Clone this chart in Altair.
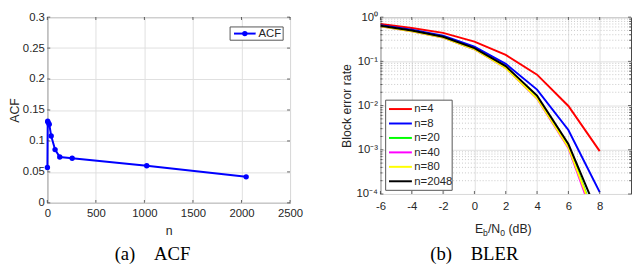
import altair as alt
import pandas as pd

# ---------------- panel (a): ACF ----------------
acf_n = [1, 4, 8, 20, 40, 80, 128, 256, 1024, 2048]
acf_val = [0.057, 0.132, 0.130, 0.127, 0.108, 0.086, 0.074, 0.072, 0.060, 0.042]
x_ticks_a = [0, 500, 1000, 1500, 2000, 2500]
y_ticks_a = [0, 0.05, 0.1, 0.15, 0.2, 0.25, 0.3]

# ---------------- panel (b): BLER ----------------
ebn0 = [-6, -4, -2, 0, 2, 4, 6, 8]
series_names = ["n=4", "n=8", "n=20", "n=40", "n=80", "n=2048"]
series_colors = ["#ff0000", "#0000ff", "#00ff00", "#ff00ff", "#ffff00", "#000000"]
bler_n4 = [0.70, 0.57, 0.44, 0.28, 0.14, 0.050, 0.0098, 0.00093]
bler_n8 = [0.66, 0.52, 0.38, 0.215, 0.088, 0.023, 0.0028, 0.00011]
bler_n20 = [0.625, 0.485, 0.35, 0.19, 0.073, 0.0152, 0.0012, 0.000016]
bler_n40 = [0.62, 0.48, 0.345, 0.188, 0.071, 0.0145, 0.0011, 0.000012]
bler_n80 = [0.62, 0.48, 0.345, 0.188, 0.071, 0.0146, 0.00115, 0.000015]
bler_n2048 = [0.64, 0.50, 0.36, 0.20, 0.078, 0.0168, 0.00135, 0.000028]
x_ticks_b = [-6, -4, -2, 0, 2, 4, 6, 8]
y_ticks_b = [1e-4, 1e-3, 1e-2, 1e-1, 1]
y_minor_b = [m * 10.0 ** e for e in range(-4, 0) for m in range(2, 10)]

SANS = "Liberation Sans"
SERIF = "Liberation Serif"
AXC = "#262626"
NB = "\u00a0"

W_A, H_A = 247, 189
W_B, H_B = 255, 180
TK = 3  # inward tick length

one = pd.DataFrame({"k": [0]})


def ticks_x(field, vals, scale, axis, h):
    d = pd.DataFrame({field: vals})
    enc = alt.X(f"{field}:Q", scale=scale, axis=axis)
    bot = alt.Chart(d).mark_tick(orient="vertical", size=TK, thickness=1, color=AXC).encode(
        enc, y=alt.value(h - TK / 2))
    top = alt.Chart(d).mark_tick(orient="vertical", size=TK, thickness=1, color=AXC).encode(
        enc, y=alt.value(TK / 2))
    return [bot, top]


def ticks_y(field, vals, scale, axis, w, size=TK):
    d = pd.DataFrame({field: vals})
    enc = alt.Y(f"{field}:Q", scale=scale, axis=axis)
    lft = alt.Chart(d).mark_tick(orient="horizontal", size=size, thickness=1, color=AXC).encode(
        enc, x=alt.value(size / 2))
    rgt = alt.Chart(d).mark_tick(orient="horizontal", size=size, thickness=1, color=AXC).encode(
        enc, x=alt.value(w - size / 2))
    return [lft, rgt]


# ---------- panel a ----------
df_a = pd.DataFrame({"n": acf_n, "acf": acf_val})
xsc_a = alt.Scale(domain=[0, 2500], nice=False, zero=False)
ysc_a = alt.Scale(domain=[0, 0.3], nice=False)
xax_a = alt.Axis(values=x_ticks_a, title="n", format="d", labelFlush=False, grid=True,
                 ticks=False, domain=False, labelPadding=5, titlePadding=6)
yax_a = alt.Axis(values=y_ticks_a, title="ACF", format=".2~f", labelFlush=False, grid=True,
                 ticks=False, domain=False, labelPadding=3, titlePadding=1)
base_a = alt.Chart(df_a).encode(alt.X("n:Q", scale=xsc_a, axis=xax_a),
                                alt.Y("acf:Q", scale=ysc_a, axis=yax_a))
line_a = base_a.mark_line(color="#0000ff", strokeWidth=2)
pts_a = base_a.mark_point(filled=True, color="#0000ff", size=30, opacity=1)

leg_box = alt.Chart(one).mark_rect(fill="white", stroke="#555555", strokeWidth=1).encode(
    x=alt.value(186), x2=alt.value(240), y=alt.value(10), y2=alt.value(23.5))
leg_line = alt.Chart(one).mark_rule(color="#0000ff", strokeWidth=2).encode(
    x=alt.value(190), x2=alt.value(212), y=alt.value(16.75))
leg_pt = alt.Chart(one).mark_point(filled=True, color="#0000ff", size=30, opacity=1).encode(
    x=alt.value(201), y=alt.value(16.75))
leg_txt = alt.Chart(one).mark_text(text="ACF", align="left", baseline="middle", font=SANS,
                                   fontSize=11.5, color=AXC).encode(
    x=alt.value(215), y=alt.value(17))
cap_a = alt.Chart(one).mark_text(text="(a)" + NB * 4 + "ACF", font=SERIF, fontSize=19,
                                 align="center", baseline="alphabetic", color="black").encode(
    x=alt.value(154 - 47), y=alt.value(246.75))

panel_a = alt.layer(
    line_a, pts_a,
    *ticks_x("n", x_ticks_a, xsc_a, xax_a, H_A),
    *ticks_y("acf", y_ticks_a, ysc_a, yax_a, W_A),
    leg_box, leg_line, leg_pt, leg_txt, cap_a
).properties(width=W_A, height=H_A)

# ---------- panel b ----------
rows = []
for name, vals in zip(series_names, [bler_n4, bler_n8, bler_n20, bler_n40, bler_n80, bler_n2048]):
    for x, v in zip(ebn0, vals):
        rows.append({"ebn0": x, "bler": v, "series": name})
df_b = pd.DataFrame(rows)

ylog = alt.Scale(type="log", domain=[1e-4, 1], nice=False)
xlin = alt.Scale(domain=[-6, 10], nice=False, zero=False)
sup_expr = ("datum.value > 0.5 ? '10\u2070' : datum.value > 0.05 ? '10\u207b\u00b9' : "
            "datum.value > 0.005 ? '10\u207b\u00b2' : datum.value > 0.0005 ? '10\u207b\u00b3' : '10\u207b\u2074'")
yb_axis = alt.Axis(values=y_ticks_b, title="Block error rate", labelExpr=sup_expr, grid=True,
                   labelFlush=False, ticks=False, domain=False, labelPadding=3, titlePadding=3)
xb_axis = alt.Axis(values=x_ticks_b, title=None, labelExpr="'' + datum.value", grid=True,
                   labelFlush=False, ticks=False, domain=False, labelPadding=7)

minor_b = alt.Chart(pd.DataFrame({"bler": y_minor_b})).mark_rule(
    color="#c8c8c8", strokeWidth=1, strokeDash=[1, 2]).encode(
    y=alt.Y("bler:Q", scale=ylog, axis=yb_axis))

xb = alt.X("ebn0:Q", scale=xlin, axis=xb_axis)
yb = alt.Y("bler:Q", scale=ylog, axis=yb_axis)
color_b = alt.Color("series:N", scale=alt.Scale(domain=series_names, range=series_colors),
                    legend=None)
line_b = alt.Chart(df_b).mark_line(strokeWidth=2, clip=True).encode(xb, yb, color_b)

# manual legend (layout only)
leg_layers = [alt.Chart(one).mark_rect(fill="white", stroke="#555555", strokeWidth=1).encode(
    x=alt.value(5.3), x2=alt.value(73), y=alt.value(84.5), y2=alt.value(176.25))]
for i, (name, col) in enumerate(zip(series_names, series_colors)):
    yy = 93.55 + i * 14.7
    leg_layers.append(alt.Chart(one).mark_rule(color=col, strokeWidth=2).encode(
        x=alt.value(8.7), x2=alt.value(32), y=alt.value(yy)))
    leg_layers.append(alt.Chart(one).mark_text(text=name, align="left", baseline="middle",
                                               font=SANS, fontSize=11.5, color=AXC).encode(
        x=alt.value(34.5), y=alt.value(yy + 0.5)))

tb = 219.75
t_E = alt.Chart(one).mark_text(text="E", align="left", baseline="alphabetic", font=SANS,
                               fontSize=12.5, color=AXC).encode(x=alt.value(96.2), y=alt.value(tb))
t_b = alt.Chart(one).mark_text(text="b", align="left", baseline="alphabetic", font=SANS,
                               fontSize=8.75, color=AXC).encode(x=alt.value(104.5), y=alt.value(tb + 3))
t_N = alt.Chart(one).mark_text(text="/N", align="left", baseline="alphabetic", font=SANS,
                               fontSize=12.5, color=AXC).encode(x=alt.value(109.4), y=alt.value(tb))
t_0 = alt.Chart(one).mark_text(text="0", align="left", baseline="alphabetic", font=SANS,
                               fontSize=8.75, color=AXC).encode(x=alt.value(121.9), y=alt.value(tb + 3))
t_dB = alt.Chart(one).mark_text(text="(dB)", align="left", baseline="alphabetic", font=SANS,
                                fontSize=12.5, color=AXC).encode(x=alt.value(130.3), y=alt.value(tb))
cap_b = alt.Chart(one).mark_text(text="(b)" + NB * 4 + "BLER", font=SERIF, fontSize=19,
                                 align="center", baseline="alphabetic", color="black").encode(
    x=alt.value(478.5 - 383), y=alt.value(246.75))

panel_b = alt.layer(
    minor_b, line_b,
    *ticks_x("ebn0", x_ticks_b, xlin, xb_axis, H_B),
    *ticks_y("bler", y_ticks_b, ylog, yb_axis, W_B),
    *ticks_y("bler", y_minor_b, ylog, yb_axis, W_B, size=2),
    *leg_layers, t_E, t_b, t_N, t_0, t_dB, cap_b
).properties(width=W_B, height=H_B)

chart = alt.hconcat(panel_a, panel_b, spacing=36).properties(
    padding={"left": 0, "top": 0, "right": 0, "bottom": 0}
).configure_view(
    stroke="#444444", strokeWidth=1
).configure_axis(
    gridColor="#dfdfdf", gridWidth=1, labelFont=SANS, titleFont=SANS, labelFontSize=11.5,
    titleFontSize=12.5, labelColor=AXC, titleColor=AXC, titleFontWeight="normal"
)

chart.save("out.html", embed_options={"renderer": "svg", "actions": False})
